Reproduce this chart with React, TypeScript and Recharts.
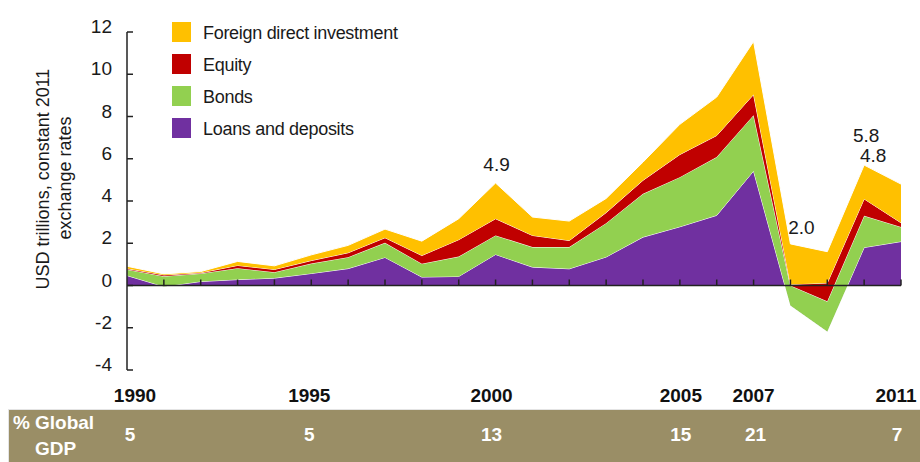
import React from 'react';
import { AreaChart, Area, XAxis, YAxis, ReferenceLine, ReferenceDot } from 'recharts';

const years = [1990, 1991, 1992, 1993, 1994, 1995, 1996, 1997, 1998, 1999, 2000, 2001, 2002, 2003, 2004, 2005, 2006, 2007, 2008, 2009, 2010, 2011];
const loansDeposits = [0.47, -0.05, 0.19, 0.28, 0.35, 0.57, 0.8, 1.33, 0.4, 0.43, 1.47, 0.87, 0.79, 1.35, 2.29, 2.78, 3.32, 5.42, -0.95, -2.18, 1.8, 2.08];
const bonds = [0.29, 0.49, 0.38, 0.54, 0.28, 0.47, 0.54, 0.69, 0.63, 0.94, 0.9, 0.95, 1.03, 1.6, 2.05, 2.35, 2.76, 2.64, 0.95, 1.43, 1.5, 0.69];
const equity = [0.04, 0.06, 0.03, 0.13, 0.13, 0.14, 0.21, 0.24, 0.39, 0.8, 0.79, 0.55, 0.31, 0.5, 0.64, 1.07, 1.02, 0.98, 0.05, 0.87, 0.8, 0.2];
const fdi = [0.11, 0.05, 0.06, 0.19, 0.17, 0.27, 0.35, 0.41, 0.68, 0.99, 1.69, 0.87, 0.92, 0.67, 0.86, 1.43, 1.82, 2.51, 1.92, 1.48, 1.6, 1.83];

const yTicks = [-4, -2, 0, 2, 4, 6, 8, 10, 12];
const labelYears = [1990, 1995, 2000, 2005, 2007, 2011];
const gdpShare = ['5', '5', '13', '15', '21', '7'];
const annotationYears = [2000, 2008, 2010, 2010];
const annotationTexts = ['4.9', '2.0', '5.8', '4.8'];

const seriesKeys = ['loans', 'bonds', 'equity', 'fdi'];
const seriesNames = ['Loans and deposits', 'Bonds', 'Equity', 'Foreign direct investment'];
const seriesColors = ['#7030A0', '#92D050', '#C00000', '#FFC000'];

const data = years.map((year, i) => ({
  year,
  loans: loansDeposits[i],
  bonds: bonds[i],
  equity: equity[i],
  fdi: fdi[i],
  total: loansDeposits[i] + bonds[i] + equity[i] + fdi[i],
}));

const FONT = '"Liberation Sans", Arial, sans-serif';
const annotationOffsets = [[1, -12], [11, -10], [2, -23], [9, -3]];
const labelShift = [8, -2, -4, 1, 0, -5];
const valueShift = [3, -2, -4, 1, 2, -4];

const YTick = (props: any) => {
  const { x, y, payload } = props;
  return (
    <g>
      <text x={x} y={y} dy={1} textAnchor="end" fontSize={19} fontFamily={FONT} fill="#1a1a1a">
        {payload.value}
      </text>
      <line x1={x + 15} x2={x + 21} y1={y} y2={y} stroke="#222" strokeWidth={1.5} />
    </g>
  );
};

const XTick = (props: any) => {
  const { x, y, payload } = props;
  const i = labelYears.indexOf(payload.value);
  const dx = i >= 0 ? labelShift[i] : 0;
  const vx = i >= 0 ? valueShift[i] : 0;
  return (
    <g>
      <text x={x + dx} y={y + 24} textAnchor="middle" fontWeight="bold" fontSize={19} fontFamily={FONT} fill="#111">
        {payload.value}
      </text>
      <text x={x + vx} y={y + 63} textAnchor="middle" fontWeight="bold" fontSize={19} fontFamily={FONT} fill="#fff">
        {i >= 0 ? gdpShare[i] : ''}
      </text>
    </g>
  );
};

export default function App() {
  const legendOrder = [3, 2, 1, 0];
  return (
    <div style={{ position: 'absolute', left: 0, top: 0, width: 920, height: 462, background: '#fff', overflow: 'hidden', fontFamily: FONT }}>
      {/* GDP band */}
      <div
        style={{
          position: 'absolute',
          left: 8,
          top: 409,
          width: 912,
          height: 53,
          background: '#9A8E66',
          borderTop: '1px solid #e4e4e4',
          borderLeft: '1px solid #e4e4e4',
          boxSizing: 'border-box',
        }}
      />
      <div style={{ position: 'absolute', left: 12, top: 410, width: 100, height: 52, overflow: 'hidden', color: '#fff', fontWeight: 'bold', fontSize: 19 }}>
        <div style={{ position: 'absolute', left: 1, top: 2 }}>%</div>
        <div style={{ position: 'absolute', left: 23, top: 2 }}>Global</div>
        <div style={{ position: 'absolute', left: 23, top: 28 }}>GDP</div>
      </div>

      {/* Y axis title */}
      <svg style={{ position: 'absolute', left: 0, top: 0 }} width={120} height={370}>
        <text transform="translate(49,179) rotate(-90)" textAnchor="middle" fontSize={18} fontFamily={FONT} fill="#1a1a1a">
          USD trillions, constant 2011
        </text>
        <text transform="translate(71,178) rotate(-90)" textAnchor="middle" fontSize={18} fontFamily={FONT} fill="#1a1a1a">
          exchange rates
        </text>
      </svg>

      <div style={{ position: 'absolute', left: 0, top: 0 }}>
        <AreaChart width={920} height={462} data={data} margin={{ top: 32, right: 19, bottom: 62, left: 0 }}>
          <XAxis
            dataKey="year"
            type="number"
            domain={[1990, 2011]}
            ticks={labelYears}
            axisLine={false}
            tickLine={false}
            tick={<XTick />}
            interval={0}
            height={30}
          />
          <YAxis
            type="number"
            domain={[-4, 12]}
            ticks={yTicks}
            width={127}
            tickMargin={9}
            tickLine={false}
            axisLine={{ stroke: '#222', strokeWidth: 1.5 }}
            tick={<YTick />}
            interval={0}
          />
          {seriesKeys.map((k, i) => (
            <Area
              key={k}
              type="linear"
              dataKey={k}
              name={seriesNames[i]}
              stackId="flows"
              fill={seriesColors[i]}
              fillOpacity={1}
              stroke="#ffffff"
              strokeWidth={1}
              isAnimationActive={false}
              dot={false}
              activeDot={false}
            />
          ))}
          <ReferenceLine y={0} stroke="#222" strokeWidth={1.5} ifOverflow="visible" />
          {years.slice(1).map((yr) => (
            <ReferenceDot
              key={'t' + yr}
              x={yr}
              y={0}
              r={0}
              ifOverflow="visible"
              shape={(p: any) => <line x1={p.cx} x2={p.cx} y1={p.cy} y2={p.cy - 6} stroke="#222" strokeWidth={1.5} />}
            />
          ))}
          {annotationYears.map((yr, i) => {
            const idx = years.indexOf(yr);
            return (
              <ReferenceDot
                key={'a' + i}
                x={yr}
                y={data[idx].total}
                r={0}
                ifOverflow="visible"
                shape={(p: any) => (
                  <text
                    x={p.cx + annotationOffsets[i][0]}
                    y={p.cy + annotationOffsets[i][1]}
                    textAnchor="middle"
                    fontSize={19}
                    fontFamily={FONT}
                    fill="#1a1a1a"
                  >
                    {annotationTexts[i]}
                  </text>
                )}
              />
            );
          })}
        </AreaChart>
      </div>

      {/* Legend */}
      <div style={{ position: 'absolute', left: 0, top: 0 }}>
        {legendOrder.map((si, row) => (
          <div key={si}>
            <div
              style={{
                position: 'absolute',
                left: 172,
                top: 22 + row * 32,
                width: 19,
                height: 20,
                background: seriesColors[si],
              }}
            />
            <div
              style={{
                position: 'absolute',
                left: 203,
                top: 23 + row * 32,
                height: 20,
                lineHeight: '20px',
                whiteSpace: 'nowrap',
                fontSize: 18,
                letterSpacing: -0.3,
                color: '#1a1a1a',
              }}
            >
              {seriesNames[si]}
            </div>
          </div>
        ))}
      </div>
    </div>
  );
}
